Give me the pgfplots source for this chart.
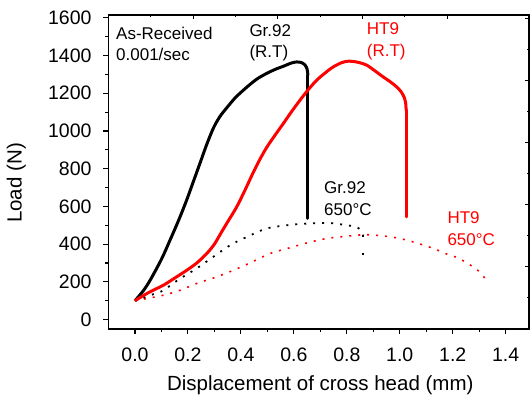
\documentclass[border=0pt]{standalone}
\usepackage{fontspec}
\setmainfont{Liberation Sans}
\usepackage{pgfplots}
\pgfplotsset{compat=1.18}
\definecolor{myred}{RGB}{255,0,0}
\begin{document}
\begin{tikzpicture}
\begin{axis}[
  width=420.5pt, height=314pt, scale only axis,
  xmin=-0.1, xmax=1.488, ymin=-50, ymax=1615,
  xtick={0,0.2,0.4,0.6,0.8,1.0,1.2,1.4},
  ytick={0,200,400,600,800,1000,1200,1400,1600},
  minor x tick num=1, minor y tick num=1,
  tick pos=left, tick align=outside,
  major tick length=5pt, minor tick length=3pt,
  axis line style={line width=1.1pt},
  every tick/.style={black, line width=1.1pt},
  /pgf/number format/assume math mode=true,
  /pgf/number format/1000 sep={},
  tick label style={font=\fontsize{19.5}{23}\selectfont},
  xticklabel style={/pgf/number format/fixed, /pgf/number format/fixed zerofill, /pgf/number format/precision=1, anchor=base, yshift=-27.7pt, inner sep=0pt},
  yticklabel style={anchor=east, xshift=-11.8pt, inner sep=0pt},
  xlabel={Displacement of cross head (mm)},
  ylabel={Load (N)},
  every axis x label/.style={at={(rel axis cs:0.5,0)}, anchor=base, yshift=-61pt, xshift=1.5pt, font=\fontsize{20.5}{24}\selectfont},
  every axis y label/.style={at={(rel axis cs:0,0.465)}, anchor=base, xshift=-86.8pt, rotate=90, font=\fontsize{20.5}{24}\selectfont},
]
% HT9 650C (dotted)
\addplot[myred, line width=1.6pt, dash pattern=on 2pt off 7pt, smooth, tension=0.5] coordinates {
(0,100)(0.05,113)(0.107,129)(0.17,155)(0.232,191)(0.308,226)(0.371,261)(0.434,300)
(0.51,350)(0.573,376)(0.648,406)(0.724,430)(0.8,442)(0.87,450)(0.94,443)(1.0,430)
(1.06,408)(1.127,377)(1.18,346)(1.22,327)(1.257,297)(1.295,261)(1.328,208)};
% Gr.92 650C (dotted)
\addplot[black, line width=1.8pt, dash pattern=on 2pt off 7pt, smooth, tension=0.5] coordinates {
(0,100)(0.04,120)(0.076,138)(0.107,155)(0.17,217)(0.232,270)(0.295,332)(0.359,394)
(0.422,438)(0.497,483)(0.573,500)(0.648,509)(0.736,512)(0.8,500)(0.837,491)(0.855,470)(0.862,450)};
\addplot[black, line width=1.8pt, dash pattern=on 2pt off 15.7pt] coordinates {(0.862,447)(0.862,265)};
% Gr.92 R.T
\addplot[black, line width=3pt, line join=round, smooth, tension=0.5] coordinates {
(0,100)(0.03,150)(0.057,208)(0.1,320)(0.132,420)(0.165,527)(0.195,633)(0.22,730)
(0.245,827)(0.27,925)(0.296,1015)(0.32,1075)(0.346,1122)(0.38,1178)(0.422,1232)
(0.46,1275)(0.497,1305)(0.53,1327)(0.56,1343)(0.59,1360)(0.61,1366)(0.628,1363)
(0.642,1350)(0.65,1328)(0.653,1296)};
\addplot[black, line width=3pt, line cap=round] coordinates {(0.653,1296)(0.653,536)};
% HT9 R.T
\addplot[myred, line width=3pt, line join=round, smooth, tension=0.5] coordinates {
(0,100)(0.05,142)(0.107,182)(0.15,220)(0.195,261)(0.235,302)(0.271,350)(0.30,400)
(0.321,450)(0.35,518)(0.384,597)(0.415,685)(0.445,775)(0.47,845)(0.497,912)(0.53,980)
(0.56,1039)(0.59,1100)(0.623,1163)(0.655,1220)(0.686,1269)(0.72,1310)(0.749,1340)
(0.78,1362)(0.806,1370)(0.84,1365)(0.875,1349)(0.905,1320)(0.937,1287)(0.965,1260)
(0.988,1234)(1.005,1208)(1.016,1180)(1.022,1150)(1.024,1110)};
\addplot[myred, line width=3pt, line cap=round] coordinates {(1.024,1110)(1.024,544)};
\end{axis}
\begin{axis}[
  width=420.5pt, height=314pt, scale only axis,
  xmin=0, xmax=4.965, ymin=0, ymax=5.05,
  xtick={0,1,2,3,4}, ytick={0,1,2,3,4,5},
  minor x tick num=1, minor y tick num=1,
  tick pos=right, tick align=inside,
  major tick length=4.5pt, minor tick length=2.5pt,
  axis line style={line width=1.1pt},
  every tick/.style={black, line width=1.1pt},
  xticklabels={}, yticklabels={},
]
\end{axis}
\begin{scope}[every node/.style={inner sep=0pt, anchor=base west, font=\fontsize{17}{20}\selectfont}]
\node at (7.5pt,289pt) {As-Received};
\node at (7.5pt,268pt) {0.001/sec};
\node at (140.8pt,292pt) {Gr.92};
\node at (140.8pt,271pt) {(R.T)};
\node[text=myred] at (258.2pt,294pt) {HT9};
\node[text=myred] at (258.2pt,272.3pt) {(R.T)};
\node at (215.5pt,135.7pt) {Gr.92};
\node at (215.5pt,114pt) {650°C};
\node[text=myred] at (338.8pt,105.7pt) {HT9};
\node[text=myred] at (338.8pt,84pt) {650°C};
\end{scope}
\pgfresetboundingbox
\useasboundingbox (-108.5pt,-65pt) rectangle (421.5pt,329pt);
\end{tikzpicture}
\end{document}
